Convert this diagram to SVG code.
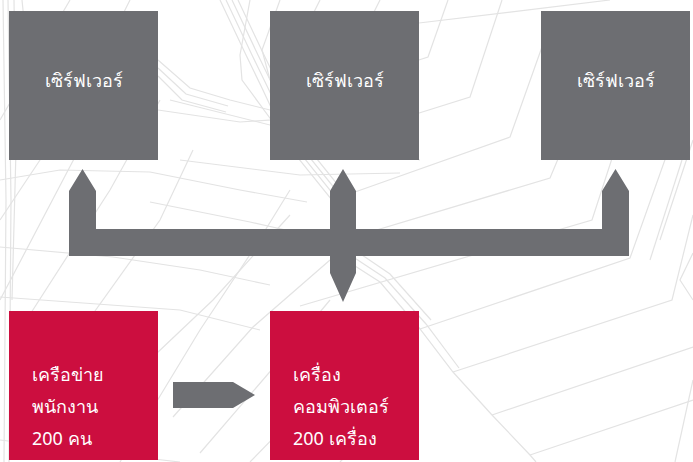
<svg xmlns="http://www.w3.org/2000/svg" width="693" height="462" viewBox="0 0 693 462">
<style>
.bg{fill:none;stroke:#e3e3e3;stroke-width:1.2}
.srv{fill:#6d6e72}
.net{fill:#cc0e3f}
.lbl{fill:#ffffff;font-family:"Noto Sans","DejaVu Sans",sans-serif;font-size:18px;font-weight:400}
.conn{fill:#6d6e72}
</style>
<rect width="693" height="462" fill="#ffffff"/>
<g id="background" class="bg">
<polyline points="448,0 428,57 400,66"/>
<polyline points="502,0 470,97 400,119"/>
<polyline points="548,30 510,137 355,192"/>
<polyline points="566,140 550,178 330,244"/>
<polyline points="618,140 592,220 300,306"/>
<polyline points="672,140 630,258 420,329"/>
<polyline points="693,215 672,300 453,372"/>
<polyline points="693,347 492,415"/>
<polyline points="693,400 530,455"/>
<polyline points="693,300 680,280 693,253"/>
<polyline points="419,23 610,0"/>
<polyline points="693,140 660,240"/>
<polyline points="682,160 650,260"/>
<polyline points="693,380 675,462"/>
<polyline points="330,250 380,282 420,329 453,372 492,415 530,455 536,462"/>
<polyline points="335,245 385,278 426,324 459,368"/>
<polyline points="340,240 390,274 431,320"/>
<polyline points="220,0 246,55 262,88 290,148 332,200 345,250"/>
<polyline points="226,0 252,55 268,88 296,148 338,200 350,250"/>
<polyline points="232,0 258,55 274,88 302,148 344,200"/>
<polyline points="238,0 264,55 280,88 308,148 350,200"/>
<polyline points="250,0 240,55 242,80 275,125 300,160"/>
<polyline points="280,0 262,50 270,80"/>
<polyline points="320,0 300,40 330,60 370,20 380,0"/>
<polyline points="158,60 190,88 230,100 290,115"/>
<polyline points="158,68 186,94 228,106"/>
<polyline points="158,76 182,100 226,112"/>
<polyline points="158,110 240,122 300,118 340,110"/>
<polyline points="150,172 240,190 307,202"/>
<polyline points="150,202 250,222 330,240"/>
<polyline points="0,180 60,170 150,172"/>
<polyline points="0,247 113,257 200,270 270,285"/>
<polyline points="0,297 180,310 260,330"/>
<polyline points="0,440 120,455 180,462"/>
<polyline points="170,100 310,135 420,160"/>
<polyline points="180,160 300,175 400,173"/>
<polyline points="0,120 70,0"/>
<polyline points="0,220 40,160 70,110 110,40 130,0"/>
<polyline points="0,300 75,157 100,110"/>
<polyline points="20,330 110,190 160,100"/>
<polyline points="60,360 160,220 193,150"/>
<polyline points="120,462 200,330 253,250 290,190"/>
<polyline points="157,353 213,300 290,215"/>
<polyline points="200,453 280,360 330,300"/>
<polyline points="250,462 330,380 380,330"/>
<polyline points="173,417 253,327 330,260"/>
<polyline points="340,462 400,400"/>
<polyline points="3,0 6,200 4,462"/>
<polyline points="8,0 11,200 9,462"/>
<polyline points="14,0 16,150 12,300"/>
<polyline points="22,0 30,80 40,160"/>
</g>
<g id="connectors">
<path class="conn" d="M69,229 V191 L82.5,169 L96,191 V229 H330 V191 L343,169 L356,191 V229 H602 V191 L615.5,169 L629,191 V256 H356 V273 L343,302 L330,273 V256 H69 Z"/>
<path class="conn" d="M173,382 H233 L255,395 L233,408 H173 Z"/>
</g>
<g id="server1"><rect class="srv" x="9" y="11" width="149" height="149"/><text class="lbl" x="83.5" y="87" text-anchor="middle">เซิร์ฟเวอร์</text></g>
<g id="server2"><rect class="srv" x="270" y="11" width="149" height="149"/><text class="lbl" x="344.5" y="87" text-anchor="middle">เซิร์ฟเวอร์</text></g>
<g id="server3"><rect class="srv" x="541" y="11" width="149" height="149"/><text class="lbl" x="615.5" y="87" text-anchor="middle">เซิร์ฟเวอร์</text></g>
<g id="network"><rect class="net" x="9" y="311" width="149" height="149"/>
<text class="lbl" x="32" y="381">เครือข่าย</text>
<text class="lbl" x="32" y="413">พนักงาน</text>
<text class="lbl" x="32" y="445">200 คน</text></g>
<g id="computers"><rect class="net" x="270" y="311" width="149" height="149"/>
<text class="lbl" x="293" y="381">เครื่อง</text>
<text class="lbl" x="293" y="413">คอมพิวเตอร์</text>
<text class="lbl" x="293" y="445">200 เครื่อง</text></g>
</svg>
